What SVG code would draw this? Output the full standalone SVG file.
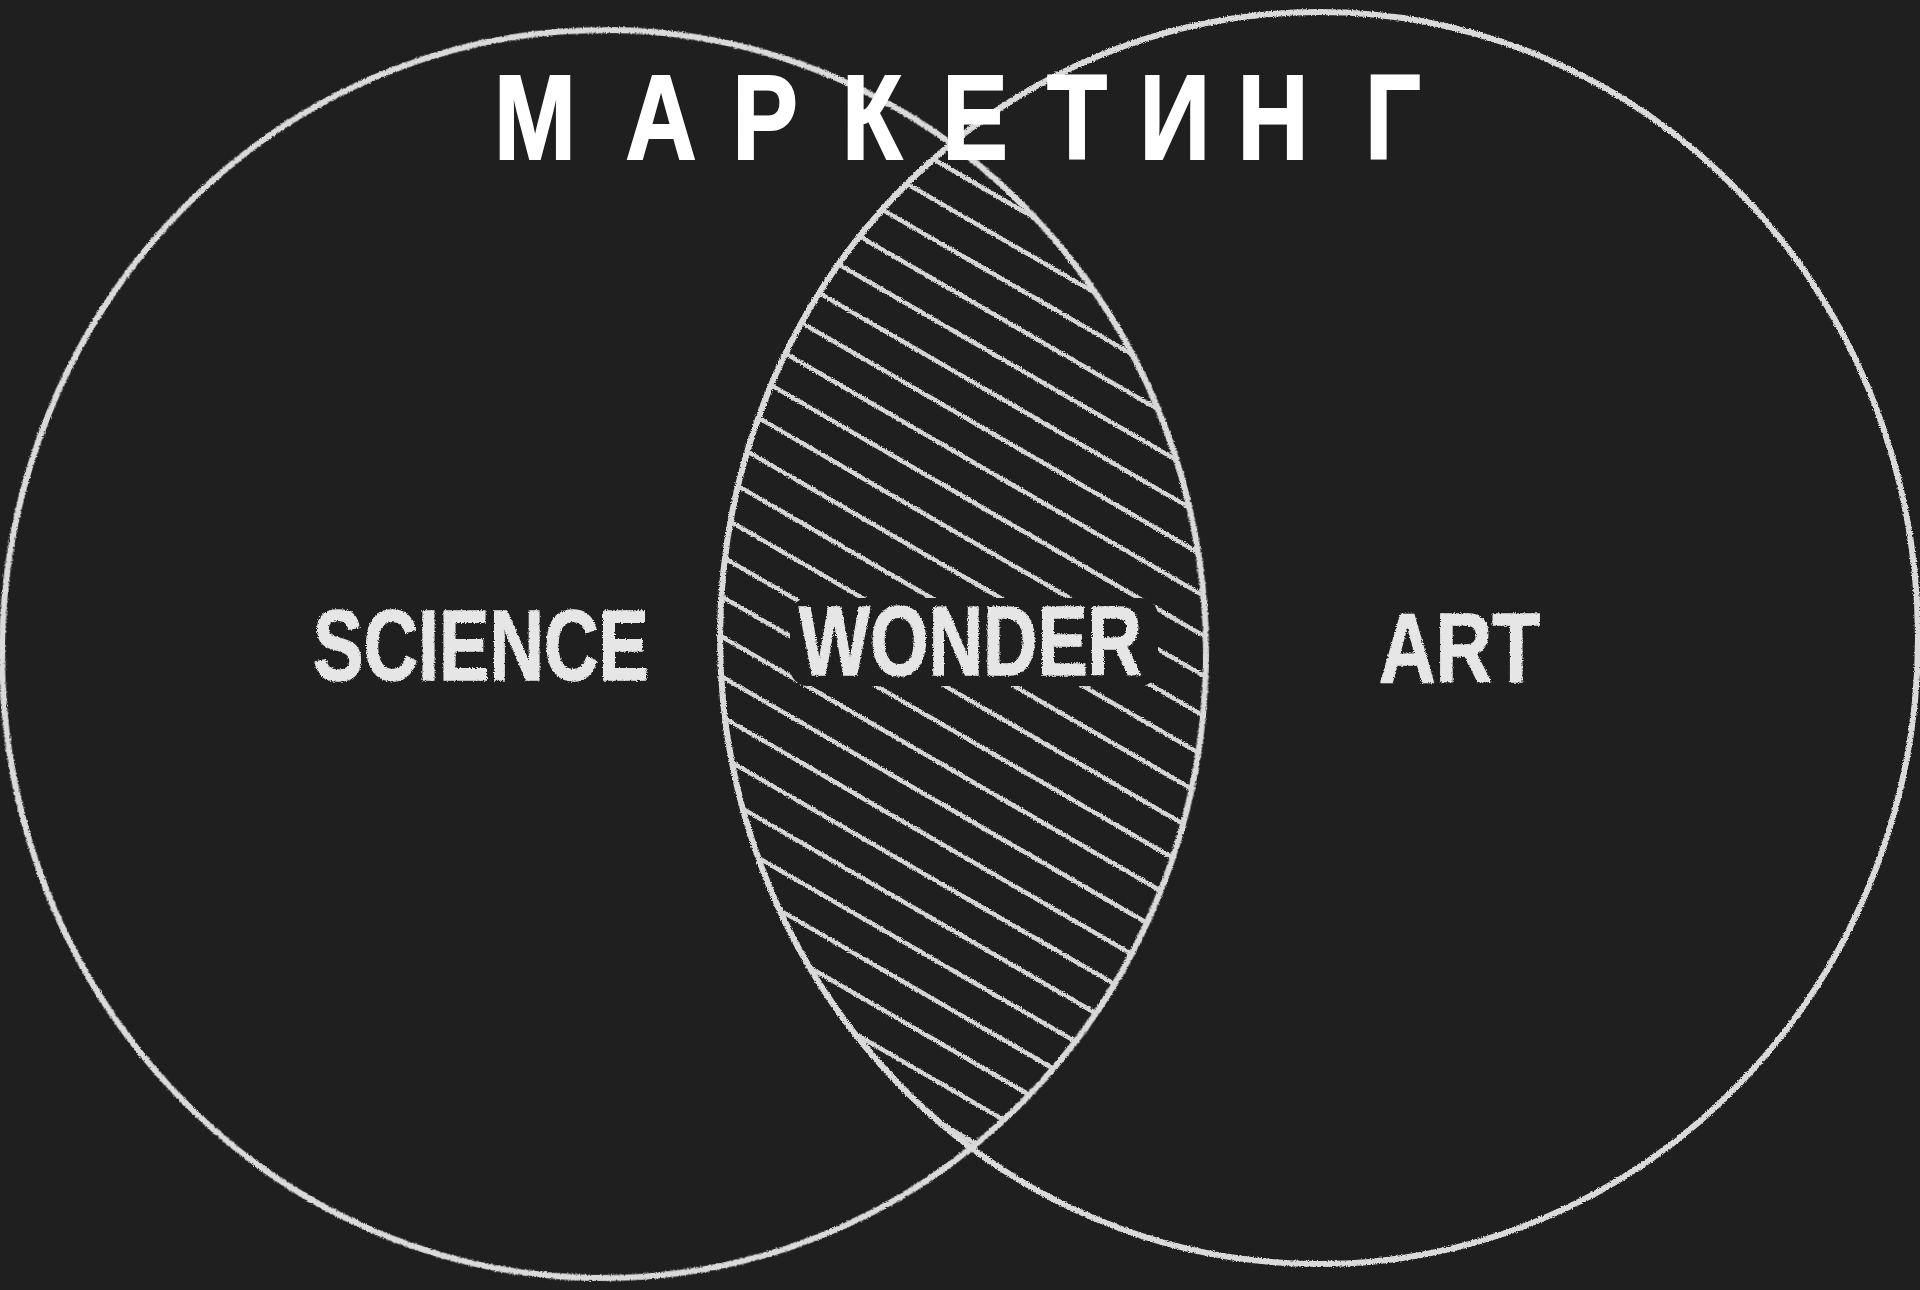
<svg xmlns="http://www.w3.org/2000/svg" width="1920" height="1290" viewBox="0 0 1920 1290">
  <style>
    .chalk { fill: none; stroke: #dadada; stroke-width: 6; stroke-linecap: round; }
    .hatch { fill: none; stroke: #d6d6d6; stroke-width: 4.5; stroke-linecap: round; }
    .label { font-family: "Liberation Sans", Arial, sans-serif; font-weight: bold; fill: #e6e6e6; stroke: #e6e6e6; stroke-width: 1.5; }
    .title { font-family: "Liberation Sans", Arial, sans-serif; font-weight: bold; fill: #ffffff; font-size: 120px; stroke: #ffffff; stroke-width: 2; }
  </style>
  <defs>
    <filter id="rough" x="-2%" y="-2%" width="104%" height="104%">
      <feTurbulence type="fractalNoise" baseFrequency="0.8" numOctaves="2" seed="4" result="n"/>
      <feDisplacementMap in="SourceGraphic" in2="n" scale="3.5" xChannelSelector="R" yChannelSelector="G"/>
    </filter>
    <clipPath id="clipLeft">
      <ellipse cx="604" cy="654" rx="602" ry="624" transform="rotate(1 604 654)"/>
    </clipPath>
    <clipPath id="clipRight">
      <ellipse cx="1319" cy="638" rx="599" ry="626"/>
    </clipPath>
    <mask id="wonderGap">
      <rect x="0" y="0" width="1920" height="1290" fill="#fff"/>
      <rect x="790" y="598" width="368" height="88" rx="18" fill="#000"/>
    </mask>
  </defs>

  <rect x="0" y="0" width="1920" height="1290" fill="#1f1f1f"/>

  <g id="science">
    <ellipse class="chalk" filter="url(#rough)" cx="604" cy="654" rx="602" ry="624" transform="rotate(1 604 654)"/>
    <text class="label" filter="url(#rough)" x="313" y="680" font-size="100" textLength="336" lengthAdjust="spacingAndGlyphs">SCIENCE</text>
  </g>

  <g id="art">
    <ellipse class="chalk" filter="url(#rough)" cx="1319" cy="638" rx="599" ry="626"/>
    <text class="label" filter="url(#rough)" x="1379" y="682" font-size="98" textLength="161" lengthAdjust="spacingAndGlyphs">ART</text>
  </g>

  <g id="wonder">
    <g clip-path="url(#clipLeft)">
      <g clip-path="url(#clipRight)">
        <g mask="url(#wonderGap)">
          <path class="hatch" filter="url(#rough)" d="M700 -96L1230 211 M700 -56L1230 251 M700 -16L1230 291 M700 24L1230 331 M700 64L1230 371 M700 104L1230 411 M700 144L1230 451 M700 184L1230 491 M700 224L1230 531 M700 264L1230 571 M700 304L1230 611 M700 344L1230 651 M700 384L1230 691 M700 424L1230 731 M700 464L1230 771 M700 504L1230 811 M700 544L1230 851 M700 584L1230 891 M700 624L1230 931 M700 664L1230 971 M700 704L1230 1011 M700 744L1230 1051 M700 784L1230 1091 M700 824L1230 1131 M700 864L1230 1171 M700 904L1230 1211 M700 944L1230 1251 M700 984L1230 1291 M700 1024L1230 1331 M700 1064L1230 1371 M700 1104L1230 1411 M700 1144L1230 1451 M700 1184L1230 1491"/>
        </g>
      </g>
    </g>
    <text class="label" filter="url(#rough)" x="799" y="675" font-size="98" textLength="343" lengthAdjust="spacingAndGlyphs">WONDER</text>
  </g>

  <g id="title">
    <text class="title" transform="scale(0.82 1)" y="159" text-anchor="middle" x="652.4 806.1 932.9 1063.4 1189.0 1313.4 1432.9 1552.4 1698.8">МАРКЕТИНГ</text>
  </g>
</svg>
